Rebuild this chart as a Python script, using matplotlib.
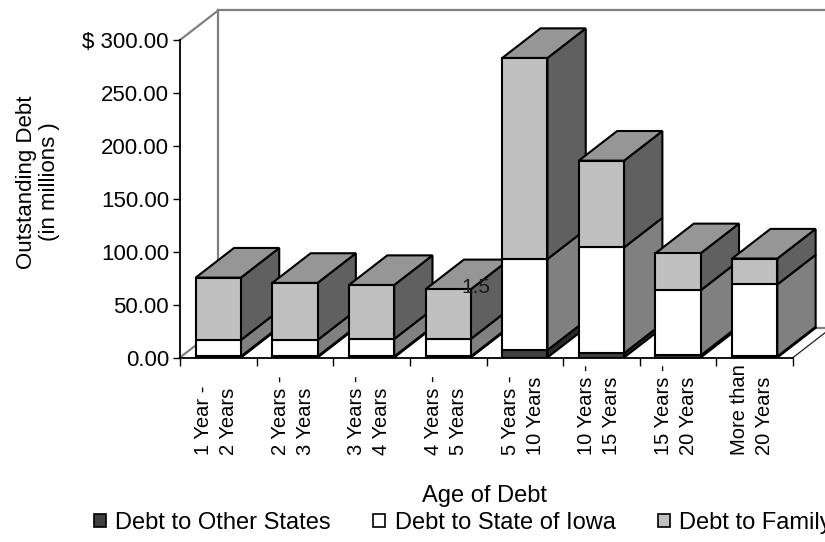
import matplotlib
matplotlib.use("Agg")
import matplotlib.pyplot as plt
from matplotlib.patches import Patch, Polygon
from matplotlib.transforms import blended_transform_factory
import numpy as np

plt.rcParams.update({
    "font.family": ["Liberation Sans", "DejaVu Sans"],
    "font.size": 15,
})

# ── data (millions of dollars) ────────────────────────────────────────
categories = ["1 Year -\n2 Years", "2 Years -\n3 Years", "3 Years -\n4 Years",
              "4 Years -\n5 Years", "5 Years -\n10 Years", "10 Years -\n15 Years",
              "15 Years -\n20 Years", "More than\n20 Years"]
other_states = [1.0, 1.0, 1.0, 1.0, 7.0, 4.0, 2.0, 1.0]
state_iowa = [15.5, 15.5, 16.5, 16.5, 86.0, 100.0, 61.5, 68.0]
family = [59.0, 54.0, 51.0, 47.0, 190.0, 82.0, 35.0, 24.5]
series_names = ["Debt to Other States", "Debt to State of Iowa", "Debt to Family"]
yticks = [0, 50, 100, 150, 200, 250, 300]
ytick_labels = ["0.00", "50.00", "100.00", "150.00", "200.00", "250.00", "$ 300.00"]

# colours: front, side, top
FRONT = ["#404040", "#ffffff", "#c0c0c0"]
SIDE = ["#2a2a2a", "#808080", "#606060"]
TOP = "#969696"

DX, DY = 0.5, 28.0      # fake 3D depth (x in categories, y in data units)
W = 0.59

fig = plt.figure(figsize=(8.25, 5.42), dpi=100)
ax = fig.add_axes([0.21818, 0.3404, 0.7988, 0.6444])
ax.set_xlim(0, 8.6)
ax.set_ylim(0, 330)
for s in ax.spines.values():
    s.set_visible(False)

n = len(categories)
x = np.arange(n) + 0.5

# back wall + floor outline
wall = dict(color="#808080", lw=1.6, zorder=1, clip_on=False)
ax.plot([0, DX], [0, DY], **wall)
ax.plot([0, DX], [300, 300 + DY], **wall)
ax.plot([DX, DX], [DY, 300 + DY], **wall)
ax.plot([DX, n + DX], [300 + DY, 300 + DY], **wall)
ax.plot([DX, n + DX], [DY, DY], **wall)
ax.plot([n, n + DX], [0, DY], color="#202020", lw=0.9, zorder=1, clip_on=False)

# axes lines
ax.plot([0, 0], [0, 300], color="black", lw=1.3, zorder=2, clip_on=False)
ax.plot([0, n], [0, 0], color="black", lw=1.3, zorder=2, clip_on=False)

# stacked bars: fronts through ax.bar, sides/tops as parallelograms
series = [other_states, state_iowa, family]
bottom = np.zeros(n)
for k, vals in enumerate(series):
    vals = np.asarray(vals)
    ax.bar(x, vals, width=W, bottom=bottom, color=FRONT[k], edgecolor="black",
           lw=1.5, zorder=5)
    for i in range(n):
        xr = x[i] + W / 2
        b, t = bottom[i], bottom[i] + vals[i]
        ax.add_patch(Polygon([(xr, b), (xr + DX, b + DY), (xr + DX, t + DY), (xr, t)],
                             closed=True, fc=SIDE[k], ec="black", lw=1.5, zorder=4))
    bottom = bottom + vals

for i in range(n):
    xl, xr, t = x[i] - W / 2, x[i] + W / 2, bottom[i]
    ax.add_patch(Polygon([(xl, t), (xl + DX, t + DY), (xr + DX, t + DY), (xr, t)],
                         closed=True, fc=TOP, ec="black", lw=1.5, zorder=4))

# stray data label in the original
ax.text(3.86, 66.6, "1.5", ha="center", va="center", fontsize=15,
        color="#1a1a1a", zorder=10)

# ticks
ax.set_yticks(yticks, ytick_labels, fontsize=16)
ax.tick_params(axis="y", length=5, width=1.0, pad=3, direction="out")
ax.set_xticks(np.arange(n + 1))
ax.set_xticklabels([])
ax.tick_params(axis="x", length=6, width=1.0, direction="out")

trans = blended_transform_factory(ax.transData, fig.transFigure)
for xi, lab in zip(x, categories):
    ax.text(xi - 0.03, (542 - 455) / 542, lab, transform=trans, rotation=90,
            ha="center", va="bottom", multialignment="left", linespacing=1.4,
            fontsize=14.5)

fig.text(38 / 825, (542 - 182) / 542, "Outstanding Debt\n(in millions )",
         rotation=90, ha="center", va="center", fontsize=16, linespacing=1.15)
fig.text(484 / 825, (542 - 496) / 542, "Age of Debt", ha="center", va="center",
         fontsize=17)

# legend runs off the right edge, as in the original
handles = [Patch(fc=FRONT[k], ec="black", lw=1.2) for k in range(3)]
fig.legend(handles, series_names, loc="center left",
           bbox_to_anchor=(94 / 825, (542 - 523) / 542), ncol=3, frameon=False,
           fontsize=17, handlelength=0.5, handleheight=0.5, handletextpad=0.4,
           columnspacing=1.8, borderaxespad=0, borderpad=0)

fig.savefig("out.png", dpi=100)
